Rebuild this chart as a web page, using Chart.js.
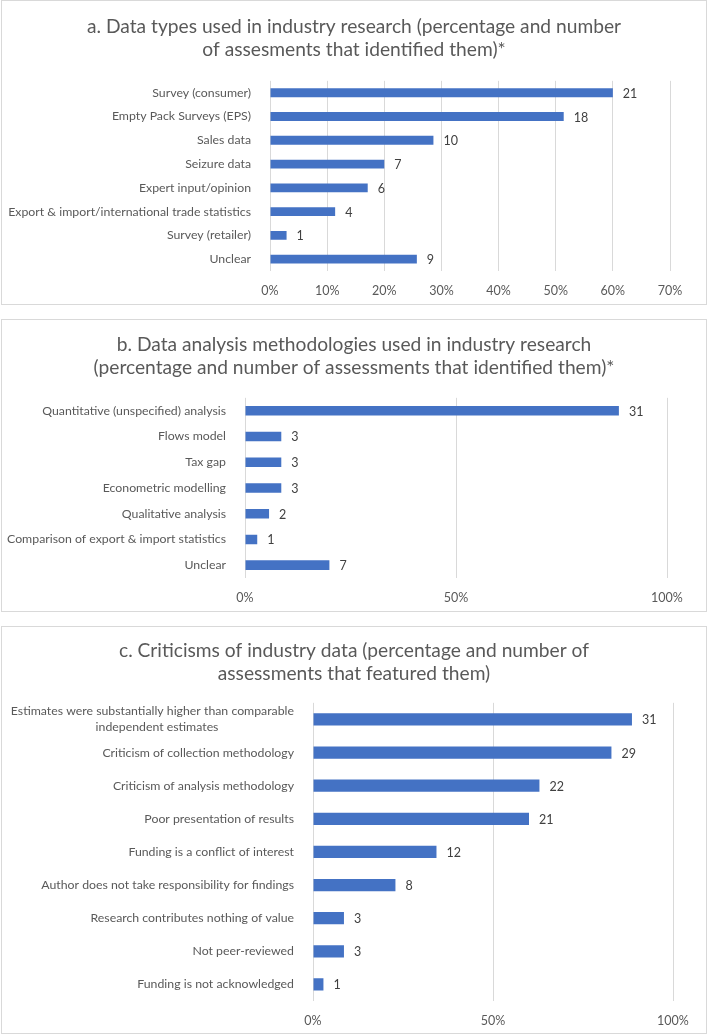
<!DOCTYPE html>
<html>
<head>
<meta charset="utf-8">
<script src="https://cdn.jsdelivr.net/npm/chart.js@4"></script>
<style>
	body {
		margin: 0;
		background: #ffffff;
		width: 708px;
		height: 1036px;
		position: relative;
		overflow: hidden;
	}
	.panel {
		position: absolute;
		left: 1px;
		width: 704px;
		border: 1px solid #d9d9d9;
		background: #ffffff;
	}
	.panel canvas {
		display: block;
	}
</style>
</head>
<body>
<div class="panel" style="top:0px;height:303px"><canvas id="chartA" width="704" height="303"></canvas></div>
<div class="panel" style="top:319px;height:291px"><canvas id="chartB" width="704" height="291"></canvas></div>
<div class="panel" style="top:626px;height:406px"><canvas id="chartC" width="704" height="406"></canvas></div>
<script>
// Panel a: data types
const typeLabels = [
	"Survey (consumer)",
	"Empty Pack Surveys (EPS)",
	"Sales data",
	"Seizure data",
	"Expert input/opinion",
	"Export & import/international trade statistics",
	"Survey (retailer)",
	"Unclear",
];
const typePercent = [60, 51.4, 28.6, 20, 17.1, 11.4, 2.9, 25.7];
const typeCounts = [21, 18, 10, 7, 6, 4, 1, 9];

// Panel b: analysis methodologies
const methodLabels = [
	"Quantitative (unspecified) analysis",
	"Flows model",
	"Tax gap",
	"Econometric modelling",
	"Qualitative analysis",
	"Comparison of export & import statistics",
	"Unclear",
];
const methodPercent = [88.6, 8.6, 8.6, 8.6, 5.7, 2.9, 20];
const methodCounts = [31, 3, 3, 3, 2, 1, 7];

// Panel c: criticisms
const critLabels = [
	["Estimates were substantially higher than comparable", "independent estimates                        "],
	"Criticism of collection methodology",
	"Criticism of analysis methodology",
	"Poor presentation of results",
	"Funding is a conflict of interest",
	"Author does not take responsibility for findings",
	"Research contributes nothing of value",
	"Not peer-reviewed",
	"Funding is not acknowledged",
];
const critPercent = [88.6, 82.9, 62.9, 60, 34.3, 22.9, 8.6, 8.6, 2.9];
const critCounts = [31, 29, 22, 21, 12, 8, 3, 3, 1];

const titleA = ["a. Data types used in industry research (percentage and number", "of assesments that identified them)*"];
const titleB = ["b. Data analysis methodologies used in industry research", "(percentage and number of assessments that identified them)*"];
const titleC = ["c. Criticisms of industry data (percentage and number of", "assessments that featured them)"];

const FONT = "Lato, 'Open Sans', sans-serif";
const TEXT = "#595959";
const BAR = "#4472c4";
const GRID = "#d9d9d9";

// writes the count next to the end of each bar
const countLabels = {
	id: "countLabels",
	afterDatasetsDraw(chart) {
		const counts = chart.config.options.counts;
		const ctx = chart.ctx;
		const meta = chart.getDatasetMeta(0);
		ctx.save();
		ctx.font = `12.5px ${FONT}`;
		ctx.fillStyle = "#404040";
		ctx.textAlign = "left";
		ctx.textBaseline = "middle";
		meta.data.forEach((bar, i) => {
			ctx.fillText(counts[i], bar.x + 10, bar.y + 1);
		});
		ctx.restore();
	},
};

const makeChart = (id, labels, values, counts, title, opts) => {
	const ctx = document.getElementById(id).getContext("2d");
	return new Chart(ctx, {
		type: "bar",
		data: {
			labels: labels,
			datasets: [
				{
					data: values,
					backgroundColor: BAR,
					categoryPercentage: 1,
					barPercentage: 0.37,
				},
			],
		},
		options: {
			counts: counts,
			indexAxis: "y",
			responsive: false,
			animation: false,
			layout: {
				padding: 0,
			},
			plugins: {
				legend: { display: false },
				tooltip: { enabled: false },
				title: {
					display: true,
					text: title,
					color: TEXT,
					font: { family: FONT, size: 19.2, weight: "normal", lineHeight: 1.22 },
					padding: { top: opts.titleTop, bottom: opts.titleBottom },
				},
			},
			scales: {
				x: {
					min: 0,
					max: opts.max,
					grid: { color: GRID, drawTicks: false },
					border: { display: false },
					ticks: {
						stepSize: opts.step,
						padding: 12,
						color: TEXT,
						font: { family: FONT, size: 12.5 },
						callback: (v) => v + "%",
					},
					afterFit: (scale) => {
						// keep the title centred on the whole panel, only the plot stops short
						scale.height = opts.xHeight;
						scale.paddingRight = opts.right;
					},
				},
				y: {
					grid: { display: false },
					border: { display: false },
					ticks: {
						autoSkip: false,
						padding: 11,
						color: TEXT,
						font: { family: FONT, size: 12.3, lineHeight: 1.3 },
					},
					afterFit: (scale) => {
						scale.width = opts.left;
					},
				},
			},
		},
		plugins: [countLabels],
	});
};

makeChart("chartA", typeLabels, typePercent, typeCounts, titleA, {
	max: 70, step: 10, left: 268, right: 36, titleTop: 14, titleBottom: 19, xHeight: 33,
});
makeChart("chartB", methodLabels, methodPercent, methodCounts, titleB, {
	max: 100, step: 50, left: 243, right: 39, titleTop: 13, titleBottom: 18, xHeight: 33,
});
makeChart("chartC", critLabels, critPercent, critCounts, titleC, {
	max: 100, step: 50, left: 311, right: 33, titleTop: 12, titleBottom: 17, xHeight: 32,
});
</script>
</body>
</html>
